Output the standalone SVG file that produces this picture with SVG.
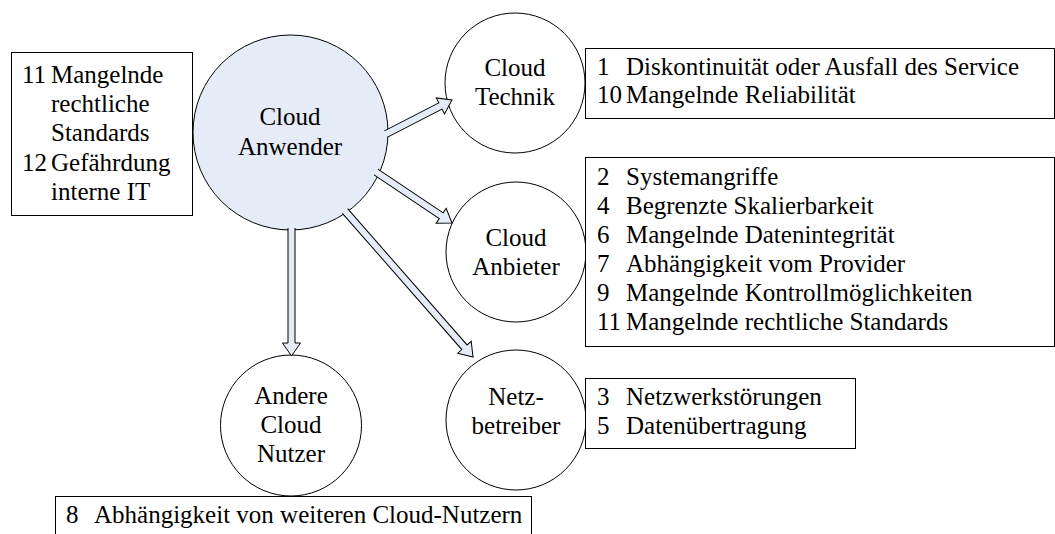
<svg xmlns="http://www.w3.org/2000/svg" width="1055" height="534" viewBox="0 0 1055 534">
<style>
.t{font-family:'Liberation Serif','Times New Roman','DejaVu Serif',serif;font-size:25px;fill:#000}
.c{text-anchor:middle}
.node{fill:#fff;stroke:#000;stroke-width:1}
.main{fill:#e5ebf7;stroke:#000;stroke-width:1}
.box{fill:#fff;stroke:#000;stroke-width:1}
.arr{fill:#e5ebf7;stroke:#000;stroke-width:1;stroke-linejoin:miter}
</style>
<rect width="1055" height="534" fill="#fff"/>
<g id="box-anwender" class="t" font-family="Liberation Serif, serif">
<rect class="box" x="11.5" y="52.5" width="181" height="163"/>
<text x="22" y="83">11</text><text x="51" y="83">Mangelnde</text>
<text x="51" y="112">rechtliche</text>
<text x="51" y="141">Standards</text>
<text x="22" y="171">12</text><text x="51" y="171">Gefährdung</text>
<text x="51" y="200">interne IT</text>
</g>
<g id="node-technik" class="t" font-family="Liberation Serif, serif">
<circle class="node" cx="515" cy="83" r="70"/>
<text class="c" x="515" y="76">Cloud</text>
<text class="c" x="515" y="105">Technik</text>
</g>
<g id="node-anbieter" class="t" font-family="Liberation Serif, serif">
<circle class="node" cx="516" cy="252" r="70"/>
<text class="c" x="516" y="246">Cloud</text>
<text class="c" x="516" y="275">Anbieter</text>
</g>
<g id="node-netz" class="t" font-family="Liberation Serif, serif">
<circle class="node" cx="516" cy="420" r="70"/>
<text class="c" x="516" y="405">Netz-</text>
<text class="c" x="516" y="434">betreiber</text>
</g>
<g id="node-andere" class="t" font-family="Liberation Serif, serif">
<circle class="node" cx="291" cy="425.5" r="70.5"/>
<text class="c" x="291" y="404">Andere</text>
<text class="c" x="291" y="433">Cloud</text>
<text class="c" x="291" y="462">Nutzer</text>
</g>
<g id="node-anwender" class="t" font-family="Liberation Serif, serif">
<circle class="main" cx="290.5" cy="132.5" r="97.5"/>
<text class="c" x="290" y="125">Cloud</text>
<text class="c" x="290" y="155">Anwender</text>
</g>
<g id="box-technik" class="t" font-family="Liberation Serif, serif">
<rect class="box" x="585.5" y="48.5" width="469" height="70"/>
<text x="597" y="75">1</text><text x="626" y="75">Diskontinuität oder Ausfall des Service</text>
<text x="597" y="103">10</text><text x="626" y="103">Mangelnde Reliabilität</text>
</g>
<g id="box-anbieter" class="t" font-family="Liberation Serif, serif">
<rect class="box" x="585.5" y="157.5" width="469" height="189"/>
<text x="597" y="185">2</text><text x="626" y="185">Systemangriffe</text>
<text x="597" y="214">4</text><text x="626" y="214">Begrenzte Skalierbarkeit</text>
<text x="597" y="243">6</text><text x="626" y="243">Mangelnde Datenintegrität</text>
<text x="597" y="272">7</text><text x="626" y="272">Abhängigkeit vom Provider</text>
<text x="597" y="301">9</text><text x="626" y="301">Mangelnde Kontrollmöglichkeiten</text>
<text x="597" y="330">11</text><text x="626" y="330">Mangelnde rechtliche Standards</text>
</g>
<g id="box-netz" class="t" font-family="Liberation Serif, serif">
<rect class="box" x="585.5" y="378.5" width="270" height="70"/>
<text x="597" y="405">3</text><text x="626" y="405">Netzwerkstörungen</text>
<text x="597" y="434">5</text><text x="626" y="434">Datenübertragung</text>
</g>
<g id="box-andere" class="t" font-family="Liberation Serif, serif">
<rect class="box" x="55.5" y="496.5" width="476" height="60"/>
<text x="66" y="523">8</text><text x="94" y="523">Abhängigkeit von weiteren Cloud-Nutzern</text>
</g>
<g id="connectors">
<path class="arr" transform="translate(386,134) rotate(-27.25)" d="M0,-3.5 H61.2 V-9 L74.2,0 L61.2,9 V3.5 H0"/>
<path class="arr" transform="translate(376,172) rotate(33.86)" d="M0,-3.5 H78.5 V-9 L91.5,0 L78.5,9 V3.5 H0"/>
<path class="arr" transform="translate(291.5,228) rotate(90)" d="M0,-3.5 H115 V-9 L128,0 L115,9 V3.5 H0"/>
<path class="arr" transform="translate(345,211) rotate(48.76)" d="M0,-3.5 H181.2 V-9 L194.2,0 L181.2,9 V3.5 H0"/>
</g>
</svg>
